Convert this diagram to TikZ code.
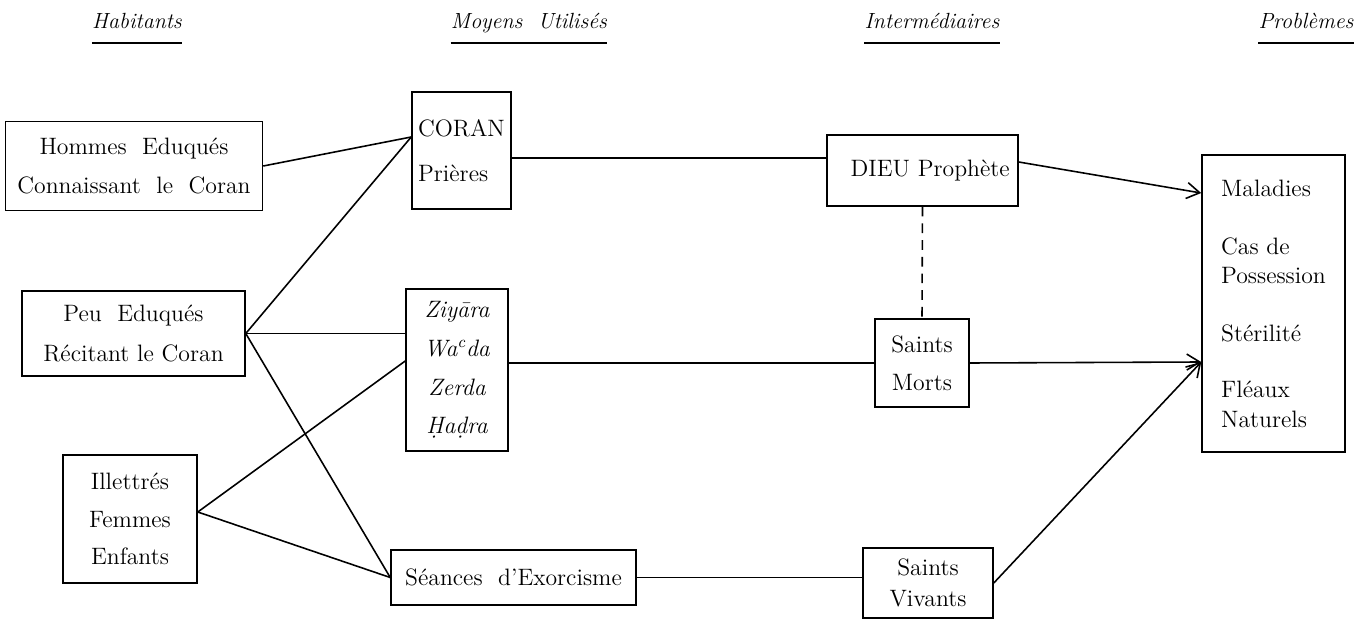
\documentclass[tikz,border=0pt]{standalone}
\usepackage{xcolor}
\usepackage{tikz}
\usetikzlibrary{arrows.meta,calc,positioning}
\tikzset{
  box/.style={draw,line width=0.9pt,inner sep=0pt,align=center,font=\fontsize{13.5}{22.5}\selectfont},
  head/.style={inner xsep=0pt,anchor=base,font=\fontsize{12.5}{15}\selectfont\itshape},
  rule/.style={line width=0.9pt},
  link/.style={line width=0.9pt},
  tie/.style={line width=0.9pt,dash pattern=on 5.5pt off 4pt},
  arr/.style={-{Straight Barb[length=2.6mm,width=3.2mm]},line width=0.9pt},
}

\begin{document}
\begin{tikzpicture}[x=0.02cm,y=-0.02cm]
  \useasboundingbox (0,0) rectangle (1367,622);
  % column heads
  \node[head] (hab) at (137,29) {Habitants};
  \node[head] (moy) at (529,29) {Moyens~~Utilisés};
  \node[head] (inter) at (932,29) {Intermédiaires};
  \node[head] (prob) at (1306,29) {Problèmes};
  \foreach \h in {hab,moy,inter,prob}
    \draw[rule] ([yshift=-0.28cm]\h.base west) -- ([yshift=-0.28cm]\h.base east);
  % habitants
  \node[box,minimum width=5.14cm,minimum height=1.78cm] (hom) at (134,166) {Hommes~~Eduqués\\Connaissant~~le~~Coran};
  \node[box,minimum width=4.46cm,minimum height=1.7cm] (peu) at (133.5,333.5) {Peu~~Eduqués\\Récitant~le~Coran};
  \node[box,minimum width=2.68cm,minimum height=2.56cm,font=\fontsize{13.5}{21.5}\selectfont] (ill) at (130,519) {Illettrés\\Femmes\\Enfants};
  % moyens
  \node[box,align=left,minimum width=1.98cm,minimum height=2.34cm,font=\fontsize{13.5}{25.5}\selectfont] (cor) at (461.5,150.5) {CORAN\\Prières};
  \node[box,minimum width=2.04cm,minimum height=3.24cm,font=\fontsize{13.5}{22}\selectfont\itshape] (ziy) at (457,370) {Ziy\=ara\\Wa\textsuperscript{c}da\\Zerda\\\d{H}a\d{d}ra};
  \node[box,minimum width=4.9cm,minimum height=1.1cm] (sea) at (513.5,577.5) {Séances~~d'Exorcisme};
  % intermediaires
  \node[box,minimum width=3.82cm,minimum height=1.42cm] (dieu) at (922.5,170.5) {~~DIEU Prophète};
  \node[box,minimum width=1.88cm,minimum height=1.76cm,font=\fontsize{13.5}{21.5}\selectfont] (mor) at (922,363) {Saints\\Morts};
  \node[box,minimum width=2.6cm,minimum height=1.4cm,font=\fontsize{13.5}{18}\selectfont] (viv) at (928,583) {Saints\\Vivants};
  % problemes
  \node[box,align=left,minimum width=2.86cm,minimum height=5.94cm,font=\fontsize{13.5}{17}\selectfont] (pro) at (1273.5,303.5)
    {Maladies\\[16pt]Cas~de\\Possession\\[16pt]Stérilité\\[14.5pt]Fléaux\\Naturels};
  \coordinate (cin) at ([yshift=0.27cm]cor.west);
  \coordinate (lin) at ([yshift=0.14cm]ill.east);
  \coordinate (hit) at ([yshift=-1.17cm]pro.west);
  % connectors
  \draw[link] (hom.east) -- (cin);
  \draw[link] (peu.east) -- (cin);
  \draw[link] (peu.east) -- (peu.east -| ziy.west);
  \draw[link] (peu.east) -- (sea.west);
  \draw[link] (lin) -- ([yshift=0.18cm]ziy.west);
  \draw[link] (lin) -- (sea.west);
  \draw[link] ([yshift=-0.15cm]cor.east) -- ([yshift=-0.15cm]cor.east -| dieu.west);
  \draw[link] (mor.west -| ziy.east) -- (mor.west);
  \draw[link] (sea.east) -- (sea.east -| viv.west);
  \draw[tie] (dieu.south) -- (mor.north);
  \draw[arr] ([yshift=0.17cm]dieu.east) -- ([yshift=2.21cm]pro.west);
  \draw[arr] (mor.east) -- (hit);
  \draw[arr] (viv.east) -- (hit);
\end{tikzpicture}
\end{document}
